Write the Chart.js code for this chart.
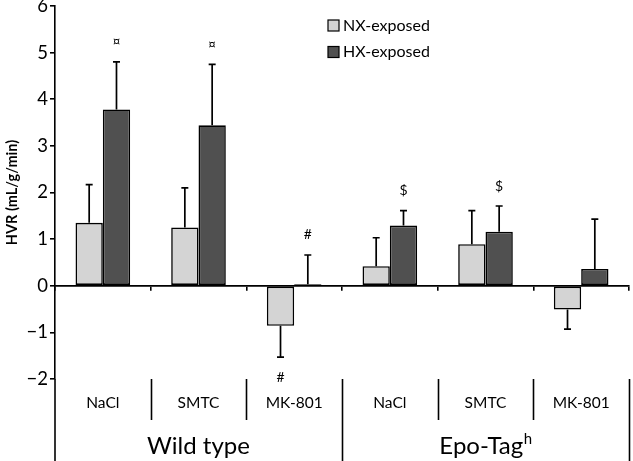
<!DOCTYPE html>
<html><head><meta charset="utf-8">
<script src="https://cdn.jsdelivr.net/npm/chart.js@4/dist/chart.umd.min.js"></script>
<style>html,body{margin:0;padding:0;background:#fff}#wrap{width:633px;height:461px;position:relative}</style>
</head><body><div id="wrap"><canvas id="c"></canvas></div>
<script>
// ---- data ----
const categories = ['NaCl', 'SMTC', 'MK-801', 'NaCl', 'SMTC', 'MK-801'];
const groups = ['Wild type', 'Epo-Tag'];
const groupSuperscripts = ['', 'h'];
const groupSizes = [3, 3];
const seriesNames = ['NX-exposed', 'HX-exposed'];
const nxValues = [1.35, 1.25, -0.86, 0.42, 0.89, -0.51];
const nxErrors = [0.82, 0.85, 0.67, 0.61, 0.72, 0.42];
const hxValues = [3.78, 3.44, 0.03, 1.29, 1.16, 0.36];
const hxErrors = [1.02, 1.31, 0.63, 0.32, 0.55, 1.07];
const nxMarks = ['', '', '#', '', '', ''];
const hxMarks = ['\u00A4', '\u00A4', '#', '$', '$', ''];
const yMin = -2, yMax = 6, yStep = 1;
const yTitle = 'HVR (mL/g/min)';

const FONT = 'Lato';

const errPlugin = {
  id: 'errs',
  afterDatasetsDraw(chart) {
    const ctx = chart.ctx, ys = chart.scales.y;
    chart.data.datasets.forEach((ds, di) => {
      const meta = chart.getDatasetMeta(di);
      meta.data.forEach((bar, i) => {
        const v = ds.data[i], e = ds.errors[i];
        const end = v >= 0 ? v + e : v - e;
        const yb = ys.getPixelForValue(v), ye = ys.getPixelForValue(end);
        ctx.save();
        ctx.strokeStyle = '#000'; ctx.lineWidth = 1.7;
        ctx.beginPath();
        ctx.moveTo(bar.x, yb); ctx.lineTo(bar.x, ye);
        ctx.moveTo(bar.x - 3.5, ye); ctx.lineTo(bar.x + 3.5, ye);
        ctx.stroke();
        const m = ds.marks[i];
        if (m) {
          ctx.fillStyle = '#000';
          ctx.font = '14px ' + FONT;
          ctx.textAlign = 'center'; ctx.textBaseline = 'middle';
          ctx.fillText(m, bar.x, ye + (v >= 0 ? -20 : 20));
        }
        ctx.restore();
      });
    });
  }
};

const labelPlugin = {
  id: 'multilevel',
  afterDraw(chart) {
    const ctx = chart.ctx, xs = chart.scales.x, area = chart.chartArea;
    const half = (xs.getPixelForValue(1) - xs.getPixelForValue(0)) / 2;
    const H = chart.height;
    ctx.save();
    ctx.strokeStyle = '#000'; ctx.lineWidth = 1.6; ctx.fillStyle = '#000';
    ctx.beginPath(); ctx.moveTo(area.left, area.bottom); ctx.lineTo(area.left, H); ctx.stroke();
    ctx.textAlign = 'center'; ctx.textBaseline = 'middle';
    ctx.font = '15.5px ' + FONT;
    categories.forEach((c, i) => ctx.fillText(c, xs.getPixelForValue(i), area.bottom + 24));
    let start = 0;
    groups.forEach((g, gi) => {
      const n = groupSizes[gi];
      for (let k = 1; k < n; k++) {
        const bx = Math.round(xs.getPixelForValue(start + k) - half) + 0.5;
        ctx.beginPath(); ctx.moveTo(bx, area.bottom); ctx.lineTo(bx, area.bottom + 41); ctx.stroke();
      }
      const sx = xs.getPixelForValue(start) - half;
      const ex = xs.getPixelForValue(start + n - 1) + half;
      const exr = Math.round(ex) + 0.5;
      ctx.beginPath(); ctx.moveTo(exr, area.bottom); ctx.lineTo(exr, H); ctx.stroke();
      const cx = (sx + ex) / 2;
      ctx.font = '24px ' + FONT;
      const sup = groupSuperscripts[gi];
      const w1 = ctx.measureText(g).width;
      ctx.font = '15px ' + FONT;
      const w2 = sup ? ctx.measureText(sup).width : 0;
      const x0 = cx - (w1 + w2) / 2;
      ctx.textAlign = 'left';
      ctx.font = '24px ' + FONT;
      ctx.fillText(g, x0, area.bottom + 67);
      if (sup) { ctx.font = '15px ' + FONT; ctx.fillText(sup, x0 + w1 + 0.5, area.bottom + 60); }
      ctx.textAlign = 'center';
      start += n;
    });
    // legend
    ctx.font = '16px ' + FONT; ctx.textAlign = 'left'; ctx.textBaseline = 'middle';
    chart.data.datasets.forEach((ds, di) => {
      const by = 20 + di * 26.5;
      ctx.fillStyle = ds.backgroundColor;
      ctx.fillRect(328, by, 11, 11);
      ctx.lineWidth = 1.2; ctx.strokeStyle = '#000';
      ctx.strokeRect(328, by, 11, 11);
      ctx.fillStyle = '#000';
      ctx.fillText(ds.label, 343, by + 5.5);
    });
    ctx.restore();
  }
};

new Chart(document.getElementById('c'), {
  type: 'bar',
  data: {
    labels: categories,
    datasets: [
      { label: seriesNames[0], data: nxValues, errors: nxErrors, marks: nxMarks,
        backgroundColor: '#d4d4d4', borderColor: '#000', borderWidth: 1.6, borderSkipped: false,
        categoryPercentage: 0.571, barPercentage: 1 },
      { label: seriesNames[1], data: hxValues, errors: hxErrors, marks: hxMarks,
        backgroundColor: '#505050', borderColor: '#000', borderWidth: 1.6, borderSkipped: false,
        categoryPercentage: 0.571, barPercentage: 1 }
    ]
  },
  options: {
    responsive: true, maintainAspectRatio: false, animation: false,
    layout: { padding: { top: 6, right: 4, bottom: 82, left: 0 } },
    plugins: { legend: { display: false }, tooltip: { enabled: false } },
    scales: {
      x: {
        position: { y: 0 },
        ticks: { display: false },
        grid: { display: true, offset: true, drawOnChartArea: false, tickLength: 4, color: '#000', lineWidth: 1.6 },
        border: { display: true, color: '#000', width: 1.8 },
        afterFit(s) { s.paddingLeft = 0; s.paddingRight = 0; }
      },
      y: {
        min: yMin, max: yMax,
        ticks: { stepSize: yStep, color: '#000', padding: 2, font: { family: FONT, size: 18.5 },
          callback: v => String(v).replace('-', '\u2212') },
        grid: { drawOnChartArea: false, tickLength: 5, color: '#000', lineWidth: 1.6 },
        border: { color: '#000', width: 1.6 },
        title: { display: true, text: yTitle, color: '#000', font: { family: FONT, size: 14.5, weight: 'bold' }, padding: { top: 4, bottom: 0 } },
        afterFit(s) { s.width = 55; s.paddingTop = 0; s.paddingBottom = 0; }
      }
    }
  },
  plugins: [errPlugin, labelPlugin]
});
</script></body></html>
